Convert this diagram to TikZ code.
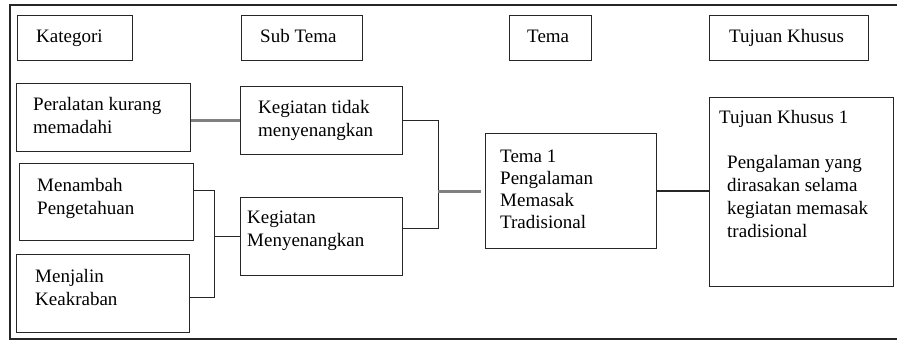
\documentclass[tikz,border=0pt]{standalone}
\usepackage{fontspec}
\setmainfont{Liberation Serif}
\usetikzlibrary{calc}
\begin{document}
\begin{tikzpicture}[x=1pt,y=-1pt,
  box/.style={draw=black!85, line width=1.2pt, inner sep=0pt, anchor=north west},
  txt/.style={anchor=base west, inner sep=0pt, font=\fontsize{19}{23}\selectfont, align=left},
  conn/.style={draw=black!85, line width=1.3pt},
  grayconn/.style={draw=black!50, line width=2.8pt}]
\useasboundingbox (0,0) rectangle (897,341);
% outer frame, open on the right
\draw[line width=2pt, black!85] (897,5) -- (10,5) -- (10,339) -- (897,339);

% column headings
\node[box, minimum width=115pt, minimum height=45pt] (kat) at (17,15) {};
\node[txt] (kat-t) at (36,42) {Kategori};
\node[box, minimum width=121pt, minimum height=45pt] (sub) at (241,15) {};
\node[txt] (sub-t) at (260,42) {Sub Tema};
\node[box, minimum width=82pt, minimum height=45pt] (tema) at (509,15) {};
\node[txt] (tema-t) at (527,42) {Tema};
\node[box, minimum width=159pt, minimum height=45pt] (tuj) at (709,15) {};
\node[txt] (tuj-t) at (729,42) {Tujuan Khusus};

% categories (text placed by the baseline of its last line)
\node[box, minimum width=174pt, minimum height=68pt] (alat) at (16,83) {};
\node[txt] (alat-t) at (33,133) {Peralatan kurang\\memadahi};
\node[box, minimum width=174pt, minimum height=77pt] (tambah) at (19,163) {};
\node[txt] (tambah-t) at (37,214) {Menambah\\Pengetahuan};
\node[box, minimum width=173pt, minimum height=78pt] (jalin) at (16,254) {};
\node[txt] (jalin-t) at (35,305) {Menjalin\\Keakraban};

% sub themes
\node[box, minimum width=162pt, minimum height=68pt] (tidak) at (240,86) {};
\node[txt] (tidak-t) at (258,136) {Kegiatan tidak\\menyenangkan};
\node[box, minimum width=162pt, minimum height=78pt] (senang) at (240,197) {};
\node[txt] (senang-t) at (247,246) {Kegiatan\\Menyenangkan};

% theme
\node[box, minimum width=171pt, minimum height=115pt] (tema1) at (485,133) {};
\node[txt, font=\fontsize{19}{22}\selectfont] (tema1-t) at (500,228) {Tema 1\\Pengalaman\\Memasak\\Tradisional};

% specific objective
\node[box, minimum width=184pt, minimum height=189pt] (tuj1) at (709,97) {};
\node[txt] (tuj1-h) at (719,123) {Tujuan Khusus 1};
\node[txt] (tuj1-t) at (727,237) {Pengalaman yang\\dirasakan selama\\kegiatan memasak\\tradisional};

% connectors
\coordinate (jl) at ($(tambah.east)+(20,0)$);
\coordinate (jr) at ($(tidak.east)+(35,0)$);
\draw[grayconn] (tidak.west -| alat.east) -- (tidak.west);
\draw[conn] ($(tambah.north east)!.35!(tambah.south east)$) -| (jl)
  |- ($(jalin.north east)!.55!(jalin.south east)$);
\draw[conn] (senang.west -| jl) -- (senang.west);
\draw[conn] (tidak.east) -| (jr) |- ($(senang.north east)!.4!(senang.south east)$);
\draw[grayconn, shorten >=4pt] (tema1.west -| jr) -- (tema1.west);
\draw[conn] (tema1.east) -- (tema1.east -| tuj1.west);
\end{tikzpicture}
\end{document}
